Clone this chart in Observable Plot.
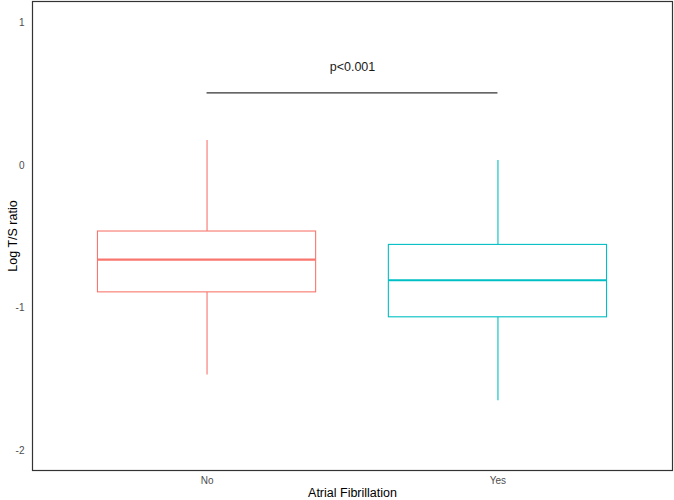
<!DOCTYPE html>
<html>
<head>
<meta charset="utf-8">
<script src="https://cdn.jsdelivr.net/npm/d3@7"></script>
<script src="https://cdn.jsdelivr.net/npm/@observablehq/plot@0.6"></script>
<style>
  html, body { margin: 0; padding: 0; background: #fff; }
  svg { font-family: "Liberation Sans", Arial, sans-serif; }
</style>
</head>
<body>
<div id="chart"></div>
<script>
const groups = ["No", "Yes"];
const whiskerLow = [-1.47, -1.65];
const q1 = [-0.89, -1.065];
const median = [-0.66, -0.805];
const q3 = [-0.463, -0.557];
const whiskerHigh = [0.175, 0.035];
const groupColors = ["#F8766D", "#00BFC4"];
const yTicks = [-2, -1, 0, 1];
const sigLabel = "p<0.001";
const sigLineY = 0.51;
const sigLabelY = 0.69;
const xTitle = "Atrial Fibrillation";
const yTitle = "Log T/S ratio";

const data = groups.map((g, i) => ({
  g, pos: i + 1,
  lo: whiskerLow[i], q1: q1[i], med: median[i], q3: q3[i], hi: whiskerHigh[i]
}));
const halfBox = 0.375;

const chart = Plot.plot({
  width: 674,
  height: 500,
  marginLeft: 32,
  marginRight: 2,
  marginTop: 1,
  marginBottom: 30,
  x: { type: "linear", domain: [0.4, 2.6], axis: null },
  y: { domain: [-2.14, 1.151], axis: null },
  color: { domain: groups, range: groupColors },
  marks: [
    Plot.axisX({ ticks: [1, 2], tickFormat: d => groups[d - 1], tickSize: 0, tickPadding: 6, fontSize: 10, fill: "#4d4d4d", label: null }),
    Plot.axisY({ ticks: yTicks, tickFormat: d => String(d), tickSize: 0, tickPadding: 8, fontSize: 10, fill: "#4d4d4d", label: null }),
    Plot.ruleX(data, { x: "pos", y1: "lo", y2: "q1", stroke: "g", strokeWidth: 1.1 }),
    Plot.ruleX(data, { x: "pos", y1: "q3", y2: "hi", stroke: "g", strokeWidth: 1.1 }),
    Plot.rect(data, { x1: d => d.pos - halfBox, x2: d => d.pos + halfBox, y1: "q1", y2: "q3", stroke: "g", fill: "white", strokeWidth: 1.1 }),
    Plot.ruleY(data, { y: "med", x1: d => d.pos - halfBox, x2: d => d.pos + halfBox, stroke: "g", strokeWidth: 2.2 }),
    Plot.ruleY([sigLineY], { x1: 1, x2: 2, stroke: "#333", strokeWidth: 1.2 }),
    Plot.text([sigLabel], { x: 1.5, y: sigLabelY, text: d => d, fontSize: 12.5, fill: "#1a1a1a" }),
    Plot.text([xTitle], { frameAnchor: "bottom", dy: 22, text: d => d, fontSize: 12.5, fill: "#000", lineAnchor: "middle" }),
    Plot.text([yTitle], { frameAnchor: "left", dx: -20, rotate: -90, text: d => d, fontSize: 12.5, fill: "#000", textAnchor: "middle" }),
    Plot.frame({ stroke: "#333", strokeWidth: 1.2 })
  ]
});
document.getElementById("chart").appendChild(chart);
</script>
</body>
</html>
